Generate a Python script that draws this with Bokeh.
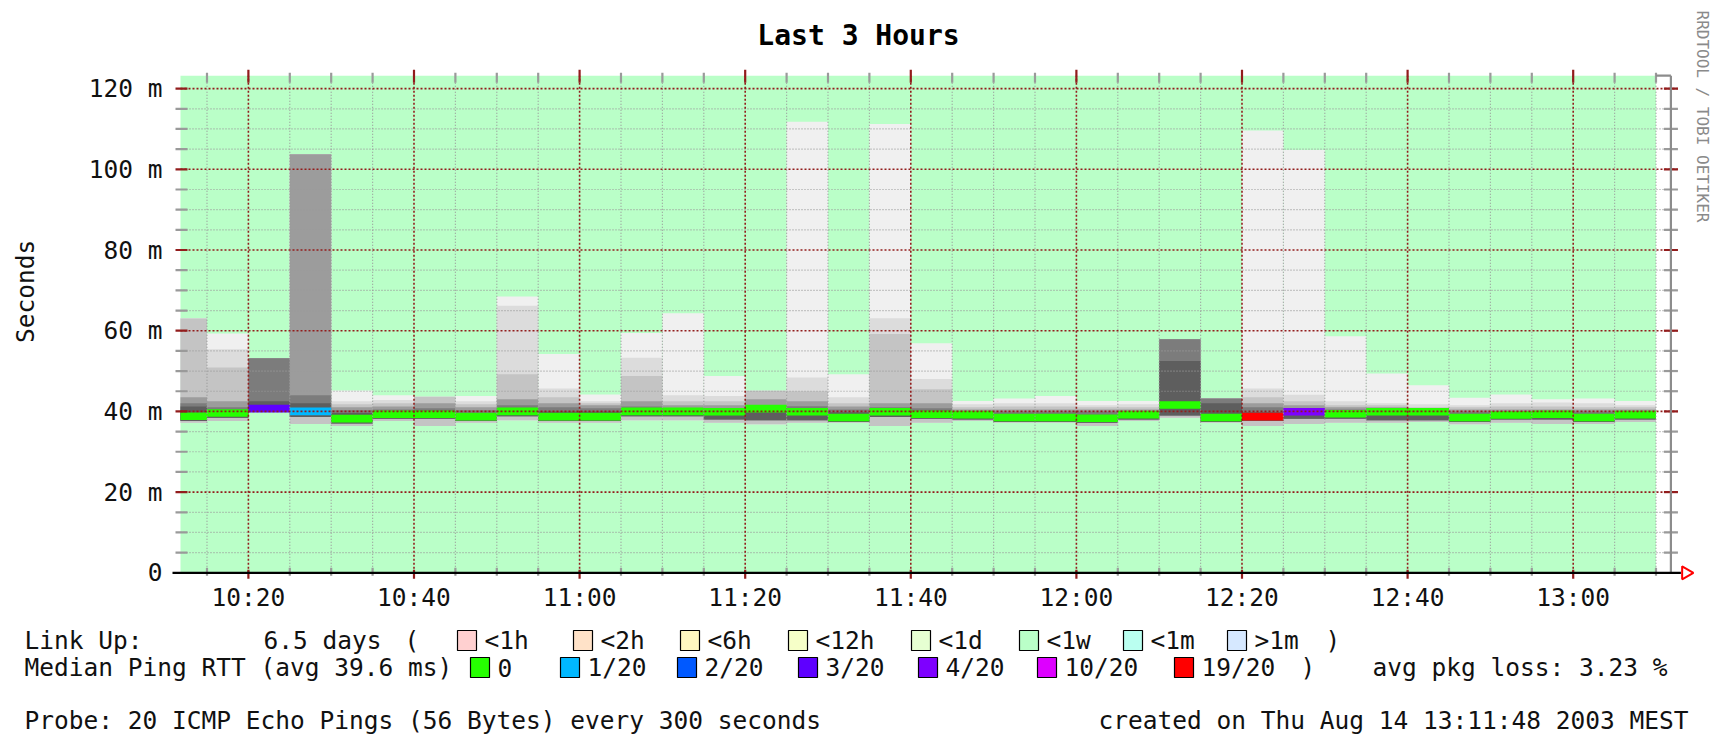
import math
from bokeh.plotting import figure
from bokeh.models import Range1d, FixedTicker, ColumnDataSource, Plot
from bokeh.layouts import column
from bokeh.embed import file_html
from bokeh.resources import INLINE
from bokeh.core.properties import value

# ------------------------------------------------------------------ data
title_text = "Last 3 Hours"
plot_start = "10:11:48"
plot_end = "13:11:48"
graph_top = 123.2          # ms, upper limit of the graph

interval_start = ["10:10", "10:15", "10:20", "10:25", "10:30", "10:35", "10:40", "10:45", "10:50", "10:55",
                  "11:00", "11:05", "11:10", "11:15", "11:20", "11:25", "11:30", "11:35", "11:40", "11:45",
                  "11:50", "11:55", "12:00", "12:05", "12:10", "12:15", "12:20", "12:25", "12:30", "12:35",
                  "12:40", "12:45", "12:50", "12:55", "13:00", "13:05"]

median_rtt = [38.8, 39.6, 40.7, 40.0, 38.2, 39.3, 39.3, 38.7, 40.0, 38.7,
              38.7, 40.0, 40.0, 39.9, 40.7, 39.9, 38.5, 39.9, 39.3, 39.2,
              38.5, 38.5, 38.3, 39.2, 41.6, 38.5, 38.7, 39.9, 39.4, 39.9,
              39.9, 38.5, 39.1, 39.3, 38.5, 39.2]

lost_pings = [0, 0, 3, 1, 0, 0, 0, 0, 0, 0,
              0, 0, 0, 0, 0, 0, 0, 0, 0, 0,
              0, 0, 0, 0, 0, 0, 19, 4, 0, 0,
              0, 0, 0, 0, 0, 0]

# smoke: upper boundaries of nested ping bands (outermost = max RTT)
rtt_max = [63.0, 59.3, 53.2, 103.7, 45.2, 44.0, 43.6, 43.8, 68.5, 54.2,
           44.2, 59.4, 64.3, 48.8, 45.1, 111.8, 49.2, 111.2, 56.9, 42.6,
           43.2, 43.8, 42.6, 42.6, 57.9, 43.2, 109.6, 104.8, 58.6, 49.4,
           46.5, 43.4, 44.2, 43.0, 43.2, 42.6]
rtt_hi2 = [63.0, 55.4, 53.2, 103.7, 42.5, 42.8, 43.6, 42.5, 66.2, 45.7,
           42.5, 53.3, 44.0, 43.8, 45.1, 48.4, 43.5, 63.1, 48.0, 41.8,
           42.0, 42.0, 41.5, 41.8, 57.9, 43.2, 45.7, 44.1, 42.5, 42.0,
           41.8, 41.5, 42.0, 42.2, 42.0, 41.5]
rtt_hi3 = [63.0, 50.9, 53.2, 103.7, 41.8, 42.0, 43.6, 41.8, 49.2, 43.5,
           42.0, 48.8, 42.5, 42.5, 45.1, 45.0, 42.0, 59.2, 45.5, 41.0,
           41.2, 41.2, 41.0, 41.0, 57.9, 43.2, 43.5, 42.5, 41.5, 41.5,
           41.0, 41.0, 41.2, 41.2, 41.0, 41.0]
rtt_hi4 = [43.5, 42.5, 53.2, 103.7, 41.0, 41.2, 42.0, 41.0, 43.0, 42.0,
           41.5, 42.5, 41.5, 41.5, 43.0, 42.5, 41.2, 42.0, 42.0, 40.5,
           40.5, 40.5, 40.5, 40.5, 57.9, 43.2, 42.0, 41.5, 41.0, 41.0,
           40.5, 40.5, 40.5, 40.5, 40.5, 40.5]
rtt_hi5 = [42.0, 41.0, 53.2, 44.0, 40.3, 40.5, 40.8, 40.3, 41.5, 41.0,
           40.8, 41.2, 40.8, 40.8, 41.5, 41.3, 40.5, 41.0, 40.8, 40.0,
           40.0, 40.0, 40.0, 40.0, 57.9, 43.2, 41.0, 40.8, 40.5, 40.5,
           40.3, 40.0, 40.0, 40.0, 40.0, 40.0]
rtt_hi6 = [41.2, 40.5, 42.5, 42.0, 39.6, 40.0, 40.2, 39.6, 40.8, 40.0,
           40.0, 40.8, 40.6, 40.6, 41.3, 40.8, 39.8, 40.6, 40.2, 39.8,
           39.4, 39.4, 39.2, 39.8, 52.5, 42.0, 39.8, 40.6, 40.2, 40.6,
           40.6, 39.4, 39.8, 39.9, 39.4, 39.8]
# lower boundaries
rtt_min = [37.2, 37.6, 39.9, 36.9, 36.4, 37.6, 36.4, 37.2, 37.8, 37.2,
           37.2, 37.8, 37.8, 37.2, 36.8, 37.2, 37.2, 36.4, 37.2, 37.6,
           37.2, 37.2, 36.4, 37.6, 38.4, 37.2, 36.4, 36.9, 37.2, 37.2,
           37.4, 36.8, 37.2, 36.9, 36.9, 37.4]
rtt_low_dark = [37.6, 38.4, 39.9, 38.6, 37.0, 38.2, 38.2, 37.6, 38.8, 37.6,
                37.6, 38.8, 38.8, 38.0, 37.8, 37.8, 37.4, 38.6, 38.2, 38.0,
                37.4, 37.4, 37.2, 38.0, 39.0, 37.4, 37.6, 38.2, 38.2, 37.8,
                37.8, 37.4, 38.0, 38.0, 37.4, 38.0]

x_tick_labels = ["10:20", "10:40", "11:00", "11:20", "11:40", "12:00", "12:20", "12:40", "13:00"]
y_tick_values = [0, 20, 40, 60, 80, 100, 120]
y_tick_labels = ["0", "20 m", "40 m", "60 m", "80 m", "100 m", "120 m"]

uptime_labels = ["<1h", "<2h", "<6h", "<12h", "<1d", "<1w", "<1m", ">1m"]
uptime_colors = ["#ffd0d0", "#ffe2c8", "#fff8c0", "#f6ffc8", "#e6ffd2", "#baffc8", "#bafff0", "#d6e8ff"]
loss_levels = [0, 1, 2, 3, 4, 10, 19]
loss_labels = ["0", "1/20", "2/20", "3/20", "4/20", "10/20", "19/20"]
loss_colors = ["#26ff00", "#00b8ff", "#0059ff", "#5e00ff", "#7e00ff", "#dd00ff", "#ff0000"]

link_up = "6.5 days"
median_avg_text = "Median Ping RTT (avg 39.6 ms)"
loss_avg_text = "avg pkg loss: 3.23 %"
probe_text = "Probe: 20 ICMP Echo Pings (56 Bytes) every 300 seconds"
created_text = "created on Thu Aug 14 13:11:48 2003 MEST"
watermark = "RRDTOOL / TOBI OETIKER"

# ------------------------------------------------------------------ helpers
def hm(s):
    parts = [int(v) for v in s.split(":")]
    return parts[0] * 60 + parts[1] + (parts[2] / 60.0 if len(parts) > 2 else 0.0)

STEP = 5.0
PX_MIN = 8.28      # pixels per minute
PX_MS = 4.035      # pixels per ms
MONO = "DejaVu Sans Mono"
FS = "24.5px"
GREEN = uptime_colors[5]
MAJOR_C = "#921c1c"
MINOR_C = "#9a9a9a"
TXT_C = "#111111"

def dx(px):
    return px / PX_MIN

def dy(px):
    return px / PX_MS

t0 = hm(plot_start)
t1 = hm(plot_end)
starts = [hm(s) for s in interval_start]
lefts = [max(s, t0) for s in starts]
rights = [s + STEP for s in starts]
x_ticks = [hm(s) for s in x_tick_labels]
loss_color_of = dict(zip(loss_levels, loss_colors))

# canvas pixel layout: frame 172..1721 x 0..582, graph origin at (180, 572.3)
FRAME_W, FRAME_H = 1549, 582
x_lo = t0 - dx(8)
x_hi = x_lo + dx(FRAME_W)
y_lo = -dy(9.7)
y_hi = y_lo + dy(FRAME_H)

p = figure(frame_width=FRAME_W, frame_height=FRAME_H, min_border_left=172, min_border_right=0,
           min_border_top=0, min_border_bottom=40,
           x_range=Range1d(x_lo, x_hi), y_range=Range1d(y_lo, y_hi),
           toolbar_location=None, output_backend="svg", background_fill_color="white",
           border_fill_color="white")
p.title = None
p.outline_line_color = None
p.xgrid.visible = False
p.ygrid.visible = False

# axes (labels only)
for ax in (p.xaxis[0], p.yaxis[0]):
    ax.axis_line_color = None
    ax.major_tick_in = 0
    ax.major_tick_out = 0
    ax.minor_tick_in = 0
    ax.minor_tick_out = 0
    ax.major_label_text_font = MONO
    ax.major_label_text_font_size = FS
    ax.major_label_text_color = TXT_C

p.xaxis.ticker = FixedTicker(ticks=x_ticks, minor_ticks=[])
p.xaxis.major_label_overrides = dict(zip(x_ticks, x_tick_labels))
p.xaxis.major_label_standoff = 0
p.yaxis.ticker = FixedTicker(ticks=y_tick_values, minor_ticks=[])
p.yaxis.major_label_overrides = dict(zip(y_tick_values, y_tick_labels))
p.yaxis.major_label_standoff = 10
p.yaxis.axis_label = "Seconds"
p.yaxis.axis_label_text_font = MONO
p.yaxis.axis_label_text_font_size = FS
p.yaxis.axis_label_text_font_style = "normal"
p.yaxis.axis_label_text_color = TXT_C
p.yaxis.axis_label_standoff = 46

# uptime background
p.quad(left=[lefts[0]], right=[rights[-1]], bottom=[0], top=[graph_top],
       fill_color=GREEN, line_color=None)

# smoke
layers = [(rtt_max, rtt_min, "#f0f0f0"), (rtt_hi2, rtt_min, "#dcdcdc"),
          (rtt_hi3, rtt_min, "#c4c4c4"), (rtt_hi4, rtt_low_dark, "#9c9c9c"),
          (rtt_hi5, rtt_low_dark, "#7c7c7c"), (rtt_hi6, rtt_low_dark, "#5e5e5e")]
for top, bot, col in layers:
    src = ColumnDataSource(dict(left=lefts, right=rights, top=top, bottom=bot))
    p.quad(left="left", right="right", top="top", bottom="bottom", source=src,
           fill_color=col, line_color=None)

# median band coloured by loss
half = dy(3.8)
med_src = ColumnDataSource(dict(left=lefts, right=rights,
                                bottom=[m - half for m in median_rtt],
                                top=[m + half for m in median_rtt],
                                color=[loss_color_of[l] for l in lost_pings]))
p.quad(left="left", right="right", top="top", bottom="bottom", source=med_src,
       fill_color="color", line_color=None)

# grid
y_minor = [v for v in range(5, 121, 5) if v % 20 != 0]
x_minor = [r for r in rights if r not in x_ticks]
gx1 = t1 + dx(7)
p.segment(x0=[t0] * len(y_minor), x1=[gx1] * len(y_minor), y0=y_minor, y1=y_minor,
          line_color=MINOR_C, line_width=1.2, line_dash="1 2")
p.segment(x0=x_minor, x1=x_minor, y0=[0] * len(x_minor), y1=[graph_top] * len(x_minor),
          line_color=MINOR_C, line_width=1.2, line_dash="1 2")
y_major = y_tick_values[1:]
p.segment(x0=[t0] * len(y_major), x1=[gx1] * len(y_major), y0=y_major, y1=y_major,
          line_color=MAJOR_C, line_width=1.6, line_dash="2 2")
p.segment(x0=x_ticks, x1=x_ticks, y0=[0] * len(x_ticks), y1=[graph_top] * len(x_ticks),
          line_color=MAJOR_C, line_width=1.6, line_dash="2 2")

# ticks: left / right (horizontal), top / bottom (vertical)
for vals, col in ((y_minor, MINOR_C), (y_major, MAJOR_C)):
    n = len(vals)
    p.segment(x0=[t0 - dx(5)] * n, x1=[t0 + dx(7)] * n, y0=vals, y1=vals, line_color=col, line_width=2.2)
    p.segment(x0=[t1 - dx(7)] * n, x1=[t1 + dx(7)] * n, y0=vals, y1=vals, line_color=col, line_width=2.2)
n = len(x_minor)
p.segment(x0=x_minor, x1=x_minor, y0=[graph_top - dy(7)] * n, y1=[graph_top + dy(3)] * n,
          line_color=MINOR_C, line_width=2.2)
p.segment(x0=x_minor, x1=x_minor, y0=[-dy(3)] * n, y1=[dy(5)] * n, line_color=MINOR_C, line_width=2.2)
n = len(x_ticks)
p.segment(x0=x_ticks, x1=x_ticks, y0=[graph_top - dy(7)] * n, y1=[graph_top + dy(6)] * n,
          line_color=MAJOR_C, line_width=2.2)
p.segment(x0=x_ticks, x1=x_ticks, y0=[-dy(6)] * n, y1=[dy(3)] * n, line_color=MAJOR_C, line_width=2.2)

# right frame line and top hook
p.segment(x0=[t1], x1=[t1], y0=[0], y1=[graph_top], line_color="#8c8c8c", line_width=2.2)
p.segment(x0=[rights[-1]], x1=[t1], y0=[graph_top], y1=[graph_top], line_color="#8c8c8c", line_width=2.2)

# x axis line and arrow
p.segment(x0=[t0 - dx(9)], x1=[t1 + dx(10)], y0=[0], y1=[0], line_color="black", line_width=2.2)
p.scatter(x=[t1 + dx(15)], y=[0], marker="triangle", angle=-math.pi / 2, size=13,
          fill_color="white", line_color="#ff0000", line_width=2)

# title and watermark (inside the canvas frame)
p.text(x=[t0 + dx(678)], y=[dy(572.3 - 35)], text=[title_text], text_font=value(MONO),
       text_font_size="28px", text_font_style="bold", text_color="black",
       text_align="center", text_baseline="middle")
p.text(x=[t0 + dx(1522)], y=[dy(572.3 - 10)], text=[watermark], angle=-math.pi / 2,
       text_font=value(MONO), text_font_size="16px", text_color="#8a8a8a",
       text_align="left", text_baseline="middle")

# ------------------------------------------------------------------ legend figure
lg = figure(width=1721, height=113, x_range=Range1d(0, 1721), y_range=Range1d(735, 622),
            toolbar_location=None, output_backend="svg", min_border=0,
            x_axis_type=None, y_axis_type=None, background_fill_color="white",
            border_fill_color="white")
lg.outline_line_color = None
lg.xgrid.visible = False
lg.ygrid.visible = False

if "frame_align" in Plot.properties():
    p.frame_align = False
    lg.frame_align = False

ROW1, ROW2, ROW3 = 640, 667, 720
up_sq = [457, 573, 680, 788, 911, 1019, 1123, 1227]
loss_sq = [470, 560, 677, 798, 918, 1037, 1174]
SQ_W, SQ_H, GAP = 19, 20, 27

lg.rect(x=[s + SQ_W / 2 for s in up_sq], y=[ROW1] * len(up_sq), width=SQ_W, height=SQ_H,
        fill_color=uptime_colors, line_color="black", line_width=1.2)
lg.rect(x=[s + SQ_W / 2 for s in loss_sq], y=[ROW2] * len(loss_sq), width=SQ_W, height=SQ_H,
        fill_color=loss_colors, line_color="black", line_width=1.2)

txt_x = [24, 263, 404] + [s + GAP for s in up_sq] + [1325] + \
        [24] + [s + GAP for s in loss_sq] + [1300, 1372] + [24]
txt_y = [ROW1] * 3 + [ROW1] * len(up_sq) + [ROW1] + \
        [ROW2] + [ROW2] * len(loss_sq) + [ROW2, ROW2] + [ROW3]
txt = ["Link Up:", link_up, "("] + uptime_labels + [")"] + \
      [median_avg_text] + loss_labels + [")", loss_avg_text] + [probe_text]
lg.text(x=txt_x, y=txt_y, text=txt, text_font=value(MONO), text_font_size=FS,
        text_color=TXT_C, text_align="left", text_baseline="middle")
lg.text(x=[1688], y=[ROW3], text=[created_text], text_font=value(MONO),
        text_font_size=FS, text_color=TXT_C, text_align="right", text_baseline="middle")

layout = column(p, lg, spacing=0)
open("out.html", "w").write(file_html(layout, INLINE))
